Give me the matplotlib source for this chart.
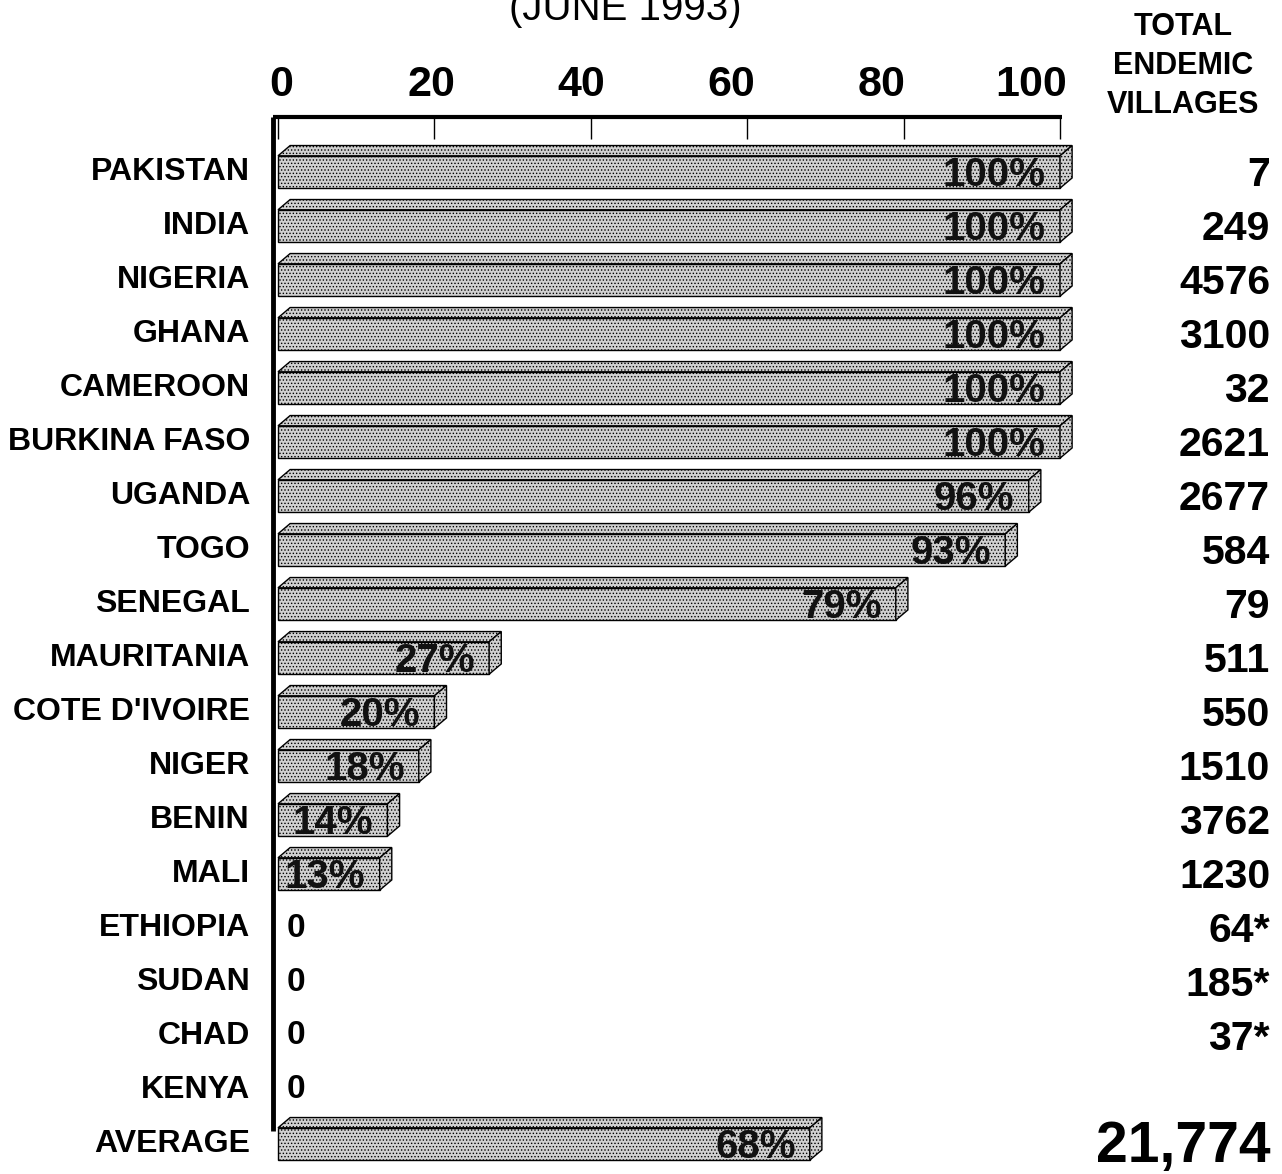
import matplotlib
matplotlib.use("Agg")
import matplotlib.pyplot as plt
from matplotlib.patches import Polygon
from matplotlib.transforms import blended_transform_factory

plt.rcParams['font.family'] = ['Liberation Sans', 'DejaVu Sans']
plt.rcParams['hatch.linewidth'] = 0.6

countries = ['PAKISTAN', 'INDIA', 'NIGERIA', 'GHANA', 'CAMEROON', 'BURKINA FASO',
             'UGANDA', 'TOGO', 'SENEGAL', 'MAURITANIA', "COTE D'IVOIRE", 'NIGER',
             'BENIN', 'MALI', 'ETHIOPIA', 'SUDAN', 'CHAD', 'KENYA', 'AVERAGE']
pct = [100, 100, 100, 100, 100, 100, 96, 93, 79, 27, 20, 18, 14, 13, 0, 0, 0, 0, 68]
villages = ['7', '249', '4576', '3100', '32', '2621', '2677', '584', '79', '511',
            '550', '1510', '3762', '1230', '64*', '185*', '37*', '', '21,774']
xticks = [0, 20, 40, 60, 80, 100]

W, H = 1282, 1174
fig = plt.figure(figsize=(W / 100, H / 100), dpi=100)
fig.patch.set_facecolor('white')

# axes: x 0..100 spans px 278..1060, rows 54 px apart, first row at px 172
top_px, bot_px = 117, 1171
ylo = -(172 - top_px) / 54.0
yhi = (bot_px - 172) / 54.0
ax = fig.add_axes([278 / W, (H - bot_px) / H, (1060 - 278) / W, (bot_px - top_px) / H])
ax.set_xlim(0, 100)
ax.set_ylim(yhi, ylo)

face = '#d0d0d0'
bh = 0.6      # front face height
dx, dy = 1.55, 0.19   # depth of the box

for i, v in enumerate(pct):
    if v <= 0:
        ax.text(1.1, i + 0.0, '0', ha='left', va='center', fontsize=24,
                fontweight='bold')
        continue
    y0, y1 = i - bh / 2, i + bh / 2
    front = Polygon([(0, y0), (v, y0), (v, y1), (0, y1)], closed=True)
    topf = Polygon([(0, y0), (dx, y0 - dy), (v + dx, y0 - dy), (v, y0)], closed=True)
    side = Polygon([(v, y0), (v + dx, y0 - dy), (v + dx, y1 - dy), (v, y1)], closed=True)
    for p in (front, topf, side):
        p.set_facecolor(face)
        p.set_edgecolor('black')
        p.set_linewidth(1.0)
        p.set_hatch('.....')
        p.set_clip_on(False)
        p.set_zorder(3)
        ax.add_patch(p)
    ax.text(v - 1.8, i + 0.05, '%d%%' % v, ha='right', va='center', fontsize=29,
            fontweight='bold', color='#111111', zorder=4)

# frame: heavy left rule and top rule with tick marks hanging down
for s in ax.spines.values():
    s.set_visible(False)
ax.plot([-0.6, -0.6], [ylo, 17.75], color='black', lw=3.5, clip_on=False, zorder=5,
        solid_capstyle='butt')
ax.plot([-0.6, 100.2], [ylo, ylo], color='black', lw=3, clip_on=False, zorder=5,
        solid_capstyle='butt')
ax.xaxis.tick_top()
ax.set_xticks(xticks)
ax.set_xticklabels([])
ax.tick_params(axis='x', direction='in', length=16, width=1.0, top=True, bottom=False)
ax.set_yticks([])

# scale numbers sit on a slightly tighter spacing than the tick marks
for t in xticks:
    ax.text(t * 0.959 + 0.4, ylo - 0.6, str(t), ha='center', va='center',
            fontsize=31, fontweight='bold', clip_on=False)

# row labels and village totals
tr = blended_transform_factory(fig.transFigure, ax.transData)
for i, (c, n) in enumerate(zip(countries, villages)):
    ax.text(250 / W, i, c, transform=tr, ha='right', va='center', fontsize=23,
            fontweight='bold')
    if n:
        fs = 41 if i == len(countries) - 1 else 29.5
        ax.text(1270 / W, i + 0.05, n, transform=tr, ha='right', va='center',
                fontsize=fs, fontweight='bold')

fig.text(1183 / W, 1 - 66 / H, 'TOTAL\nENDEMIC\nVILLAGES', ha='center', va='center',
         fontsize=22, fontweight='bold', linespacing=1.38)
fig.text(625 / W, 1 - 20 / H, '(JUNE 1993)', ha='center', va='baseline', fontsize=29)

fig.savefig('out.png', dpi=100, facecolor='white')
